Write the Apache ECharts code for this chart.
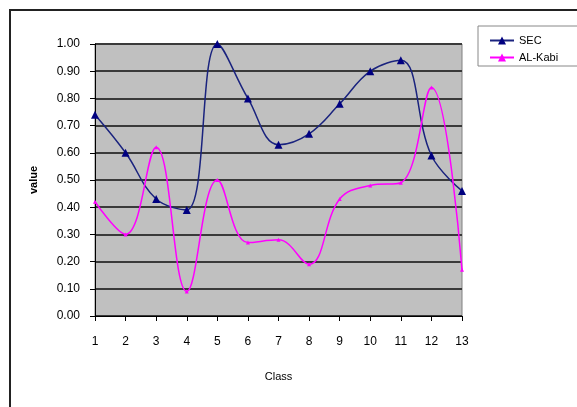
<!DOCTYPE html>
<html><head><meta charset="utf-8">
<script src="https://cdn.jsdelivr.net/npm/echarts@6/dist/echarts.min.js"></script>
<style>html,body{margin:0;padding:0;background:#fff}#c{width:577px;height:407px}</style>
</head><body><div id="c"></div>
<script>
const categories = ['1','2','3','4','5','6','7','8','9','10','11','12','13'];
const sec = [0.74,0.60,0.43,0.39,1.00,0.80,0.63,0.67,0.78,0.90,0.94,0.59,0.46];
const alKabi = [0.42,0.30,0.62,0.09,0.50,0.27,0.28,0.19,0.43,0.48,0.49,0.84,0.17];
const seriesNames = ['SEC','AL-Kabi'];

const chart = echarts.init(document.getElementById('c'));
chart.setOption({
  animation:false,
  backgroundColor:'#fff',
  textStyle:{fontFamily:'Liberation Sans, Arial, sans-serif'},
  graphic:[
    {type:'rect',shape:{x:10,y:10,width:600,height:420},style:{fill:'none',stroke:'#222',lineWidth:2},z:-1},
    {type:'rect',shape:{x:478,y:26,width:120,height:40},style:{fill:'#fff',stroke:'#888',lineWidth:1},z:1}
  ],
  grid:{left:95,right:115,top:44,bottom:91,backgroundColor:'#c0c0c0',show:true,borderColor:'#808080',borderWidth:1},
  legend:{
    orient:'vertical',left:484,top:30,itemGap:6,itemWidth:24,itemHeight:10,
    textStyle:{fontSize:11,color:'#000',fontFamily:'Liberation Sans, Arial, sans-serif'},
    data:seriesNames,
    z:5
  },
  xAxis:{
    type:'category',data:categories,boundaryGap:false,
    name:'Class',nameLocation:'middle',nameGap:55,
    nameTextStyle:{fontSize:11,color:'#000'},
    axisLine:{lineStyle:{color:'#000',width:1}},
    axisTick:{show:true,length:5,lineStyle:{color:'#000'}},
    axisLabel:{fontSize:12,color:'#000',margin:20}
  },
  yAxis:{
    type:'value',min:0,max:1,interval:0.1,
    name:'value',nameLocation:'middle',nameGap:56,
    nameTextStyle:{fontSize:11,color:'#000',fontWeight:'bold'},
    axisLine:{show:true,lineStyle:{color:'#000',width:1}},
    axisTick:{show:true,length:5,inside:false,lineStyle:{color:'#000'}},
    axisLabel:{fontSize:12,color:'#000',formatter:v=>v.toFixed(2),margin:15},
    splitLine:{show:true,lineStyle:{color:'#3a3a3a',width:2}}
  },
  series:[
    {name:seriesNames[0],type:'line',data:sec,smooth:0.4,symbol:'triangle',symbolSize:8,
     itemStyle:{color:'#000080'},lineStyle:{color:'#1a237e',width:1.5}},
    {name:seriesNames[1],type:'line',data:alKabi,smooth:0.4,symbol:'triangle',symbolSize:4,
     itemStyle:{color:'#ff00ff'},lineStyle:{color:'#ff00ff',width:1.5}}
  ]
});
</script></body></html>
